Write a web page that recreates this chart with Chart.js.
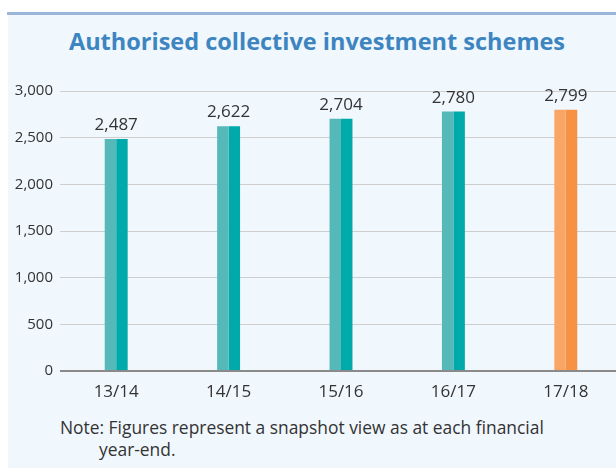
<!DOCTYPE html>
<html lang="en">
<head>
    <meta charset="UTF-8">
    <title>Authorised collective investment schemes</title>
    <script src="https://cdn.jsdelivr.net/npm/chart.js"></script>
    <style>
        html, body {
            margin: 0;
            padding: 0;
            background-color: #fff;
            overflow: hidden;
            width: 616px;
            height: 474px;
            font-family: "Open Sans", Arial, sans-serif;
        }

        .top-line {
            position: absolute;
            left: 7px;
            top: 12px;
            width: 620px;
            height: 3px;
            background-color: #9ab7d9;
        }

        .panel {
            position: absolute;
            left: 8px;
            top: 15px;
            width: 620px;
            height: 453px;
            background-color: #f0f7fd;
        }

        h1 {
            position: absolute;
            left: 0;
            top: 25px;
            width: 634px;
            margin: 0;
            text-align: center;
            font-size: 23.5px;
            font-weight: bold;
            color: #3d85c1;
        }

        .chart-box {
            position: absolute;
            left: 0;
            top: 60px;
            width: 622px;
            height: 340px;
        }

        .note {
            position: absolute;
            left: 60px;
            top: 416px;
            width: 540px;
            font-size: 17.4px;
            line-height: 22px;
            color: #333;
            padding-left: 39px;
            text-indent: -39px;
        }
    </style>
</head>
<body>
<div class="top-line"></div>
<div class="panel"></div>
<h1>Authorised collective investment schemes</h1>
<div class="chart-box"><canvas id="barChart"></canvas></div>
<div class="note">Note: Figures represent a snapshot view as at each financial<br>year-end.</div>

<script>
    // Dados do gráfico
    const anos = ['13/14', '14/15', '15/16', '16/17', '17/18'];
    const esquemas = [2487, 2622, 2704, 2780, 2799];
    const yTicks = [0, 500, 1000, 1500, 2000, 2500, 3000];

    // cores: metade clara à esquerda, metade escura à direita
    const coresClaras = ['#55b9ba', '#55b9ba', '#55b9ba', '#55b9ba', '#f8a566'];
    const coresEscuras = ['#00a9aa', '#00a9aa', '#00a9aa', '#00a9aa', '#f79245'];

    // Plugin para escrever os valores acima das barras
    const rotulos = {
        id: 'rotulos',
        afterDatasetsDraw(chart) {
            const ctx = chart.ctx;
            const meta = chart.getDatasetMeta(0);
            const xScale = chart.scales.x;
            ctx.save();
            ctx.font = '17px "Open Sans", Arial, sans-serif';
            ctx.fillStyle = '#333';
            ctx.textAlign = 'center';
            ctx.textBaseline = 'alphabetic';
            meta.data.forEach((bar, i) => {
                const x = xScale.getPixelForValue(i);
                ctx.fillText(esquemas[i].toLocaleString('en-US'), x, bar.y - 9);
            });
            ctx.restore();
        }
    };

    new Chart(document.getElementById('barChart'), {
        type: 'bar',
        data: {
            labels: anos,
            datasets: [
                { data: esquemas, backgroundColor: coresClaras },
                { data: esquemas, backgroundColor: coresEscuras }
            ]
        },
        options: {
            responsive: true,
            maintainAspectRatio: false,
            animation: false,
            categoryPercentage: 0.204,
            barPercentage: 1,
            layout: { padding: { top: 31, right: 0, bottom: 0, left: 0 } },
            plugins: {
                legend: { display: false },
                tooltip: { enabled: false }
            },
            scales: {
                x: {
                    grid: { display: false },
                    border: { display: false },
                    ticks: {
                        color: '#333',
                        padding: 3,
                        font: { family: '"Open Sans", Arial, sans-serif', size: 17 }
                    },
                    afterFit: s => { s.height = 29; }
                },
                y: {
                    min: 0,
                    max: 3000,
                    afterBuildTicks: s => { s.ticks = yTicks.map(v => ({ value: v })); },
                    border: { display: false },
                    grid: {
                        drawTicks: false,
                        color: c => c.tick && c.tick.value === 0 ? '#8a8a8a' : '#cfcfcf',
                        lineWidth: c => c.tick && c.tick.value === 0 ? 2 : 1
                    },
                    ticks: {
                        color: '#333',
                        padding: 7,
                        font: { family: '"Open Sans", Arial, sans-serif', size: 15 },
                        callback: v => v.toLocaleString('en-US')
                    },
                    afterFit: s => { s.width = 60; }
                }
            }
        },
        plugins: [rotulos]
    });
</script>
</body>
</html>
